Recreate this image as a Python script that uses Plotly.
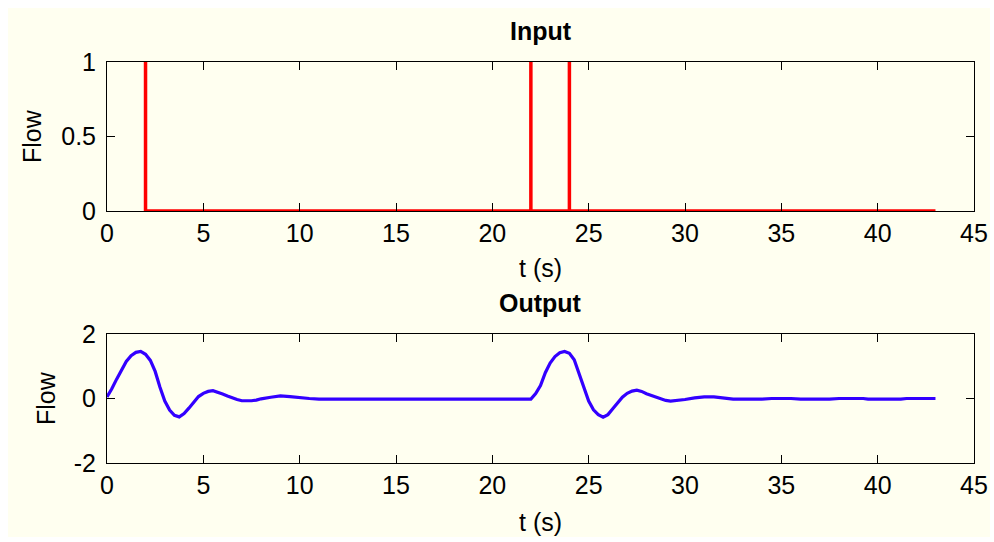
import plotly.graph_objects as go

# ---------------- data ----------------
# Input impulses (Flow vs t)
t_in = [2, 2, 22, 22, 22, 24, 24, 24, 43]
u_in = [1, 0, 0, 1, 0, 0, 1, 0, 0]

# Output response (Flow vs t)
t_out = [0, 0.25, 0.5, 0.75, 1, 1.25, 1.5, 1.75, 2, 2.25, 2.5, 2.75, 3, 3.25, 3.5, 3.75,
         4, 4.25, 4.5, 4.75, 5, 5.25, 5.5, 5.75, 6, 6.25, 6.5, 6.75, 7, 7.25, 7.5, 7.75,
         8, 8.5, 9, 9.5, 10, 10.5, 11, 12, 12.5, 13.5, 14, 15.5, 16, 17, 17.5, 19, 19.5,
         20.5, 21, 22,
         22.25, 22.5, 22.75, 23, 23.25, 23.5, 23.75, 24, 24.25, 24.5, 24.75, 25, 25.25,
         25.5, 25.75, 26, 26.25, 26.5, 26.75, 27, 27.25, 27.5, 27.75, 28, 28.25, 28.5,
         28.75, 29, 29.25, 29.5, 29.75, 30, 30.5, 31, 31.5, 32, 32.5, 34, 34.5, 35.5, 36,
         37.5, 38, 39.25, 39.5, 41.2, 41.5, 43]
y_out = [0.05, 0.3, 0.6, 0.9, 1.15, 1.33, 1.43, 1.46, 1.37, 1.18, 0.84, 0.35, -0.08, -0.36,
         -0.52, -0.57, -0.47, -0.3, -0.1, 0.06, 0.16, 0.22, 0.24, 0.2, 0.14, 0.08, 0.02,
         -0.03, -0.07, -0.08, -0.07, -0.05, -0.01, 0.04, 0.08, 0.06, 0.02, 0.0, -0.02, -0.02,
         0.0, 0.0, -0.02, -0.02, 0.0, 0.0, -0.02, -0.02, 0.0, 0.0, -0.02, -0.02,
         0.15, 0.4, 0.8, 1.1, 1.3, 1.42, 1.46, 1.4, 1.2, 0.78, 0.3, -0.08, -0.35, -0.5,
         -0.58, -0.5, -0.32, -0.12, 0.04, 0.16, 0.23, 0.26, 0.22, 0.15, 0.1, 0.04, -0.01,
         -0.06, -0.08, -0.07, -0.05, -0.03, 0.02, 0.05, 0.05, 0.02, -0.02, -0.02, 0.0, 0.0,
         -0.02, -0.02, 0.0, 0.0, -0.02, -0.02, 0.0, 0.0]

x_ticks = [0, 5, 10, 15, 20, 25, 30, 35, 40, 45]
y1_ticks = [0, 0.5, 1]
y1_labels = ["0", "0.5", "1"]
y2_ticks = [-2, 0, 2]
y2_labels = ["-2", "0", "2"]

# ---------------- figure ----------------
W, H = 994, 542
CREAM = "#fffff0"
FONT = "Liberation Sans, Arial, sans-serif"
FS = 25

def px_x(p):
    return p / W

def px_y(p):
    return 1 - p / H

fig = go.Figure()
fig.add_trace(go.Scatter(x=t_in, y=u_in, mode="lines",
                         line=dict(color="#ff0000", width=3.5),
                         xaxis="x", yaxis="y", showlegend=False, hoverinfo="skip"))
fig.add_trace(go.Scatter(x=t_out, y=y_out, mode="lines",
                         line=dict(color="#3300ff", width=3.2),
                         xaxis="x2", yaxis="y2", showlegend=False, hoverinfo="skip"))

axis_common = dict(showline=True, linecolor="black", linewidth=1, mirror="ticks",
                   ticks="inside", ticklen=8, tickcolor="black", tickwidth=1,
                   showgrid=False, zeroline=False, ticklabeloverflow="allow",
                   automargin=False,
                   tickfont=dict(family=FONT, size=FS, color="black"))

xdom = [px_x(107), px_x(974)]
fig.update_layout(
    template="none",
    width=W, height=H, autosize=False,
    margin=dict(l=0, r=0, t=0, b=0, pad=0),
    paper_bgcolor="white",
    plot_bgcolor=CREAM,
    xaxis=dict(domain=xdom, anchor="y", range=[0, 45], tickvals=x_ticks,
               ticklabelstandoff=0, **axis_common),
    yaxis=dict(domain=[px_y(211), px_y(62)], anchor="x", range=[0, 1],
               tickvals=y1_ticks, ticktext=y1_labels, ticklabelstandoff=5, **axis_common),
    xaxis2=dict(domain=xdom, anchor="y2", range=[0, 45], tickvals=x_ticks,
                ticklabelstandoff=0, **axis_common),
    yaxis2=dict(domain=[px_y(463), px_y(334)], anchor="x2", range=[-2, 2],
                tickvals=y2_ticks, ticktext=y2_labels, ticklabelstandoff=5, **axis_common),
    shapes=[dict(type="rect", xref="paper", yref="paper",
                 x0=px_x(8), x1=px_x(990), y0=px_y(537), y1=px_y(8),
                 fillcolor=CREAM, line=dict(width=0), layer="below")],
)

cx = (xdom[0] + xdom[1]) / 2
ann_font = dict(family=FONT, size=FS, color="black")
annotations = [
    dict(text="<b>Input</b>", x=cx, y=px_y(31)),
    dict(text="<b>Output</b>", x=cx, y=px_y(303)),
    dict(text="t (s)", x=cx, y=px_y(268)),
    dict(text="t (s)", x=cx, y=px_y(522)),
    dict(text="Flow", x=px_x(32), y=px_y(136), textangle=-90),
    dict(text="Flow", x=px_x(46), y=px_y(398), textangle=-90),
]
for a in annotations:
    fig.add_annotation(xref="paper", yref="paper", showarrow=False,
                       xanchor="center", yanchor="middle", font=ann_font, **a)

# place the figure at the page origin so it maps 1:1 onto the window
page_js = ("document.documentElement.style.margin='0';"
           "document.body.style.margin='0';"
           "document.documentElement.style.overflow='hidden';"
           "document.body.style.overflow='hidden';")
fig.write_html("out.html", post_script=page_js, config={"displayModeBar": False})
